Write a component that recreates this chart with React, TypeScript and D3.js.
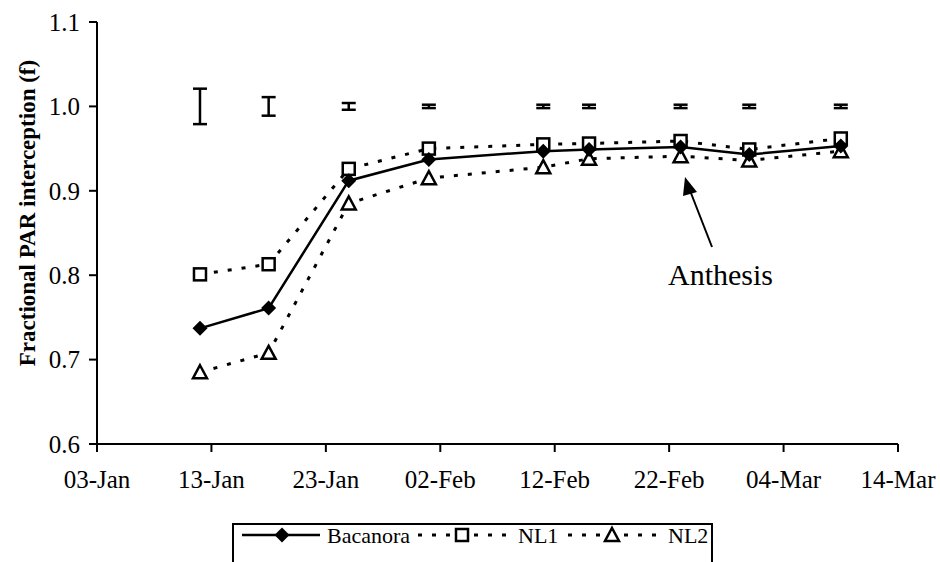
import React from "react";
import * as d3 from "d3";

// sampling dates and fractional PAR interception per cultivar
const dates = [
  "2001-01-12", "2001-01-18", "2001-01-25", "2001-02-01", "2001-02-11",
  "2001-02-15", "2001-02-23", "2001-03-01", "2001-03-09",
];
const bacanora = [0.737, 0.761, 0.912, 0.937, 0.947, 0.949, 0.952, 0.943, 0.953];
const nl1 = [0.801, 0.813, 0.926, 0.950, 0.955, 0.956, 0.959, 0.949, 0.962];
const nl2 = [0.685, 0.708, 0.885, 0.915, 0.928, 0.938, 0.941, 0.936, 0.947];
// half-length of the error bars drawn around f = 1.0
const errHalf = [0.021, 0.011, 0.004, 0.002, 0.002, 0.002, 0.002, 0.002, 0.002];
const errCenter = 1.0;

const xTicks = [
  "2001-01-03", "2001-01-13", "2001-01-23", "2001-02-02", "2001-02-12",
  "2001-02-22", "2001-03-04", "2001-03-14",
];
const yTicks = [0.6, 0.7, 0.8, 0.9, 1.0, 1.1];
const seriesNames = ["Bacanora", "NL1", "NL2"];

const parse = d3.timeParse("%Y-%m-%d");
const fmt = d3.timeFormat("%d-%b");
const FONT = "'Liberation Serif', 'Times New Roman', serif";

const x = d3
  .scaleTime()
  .domain([parse(xTicks[0]) as Date, parse(xTicks[xTicks.length - 1]) as Date])
  .range([97, 898]);
const y = d3.scaleLinear().domain([0.6, 1.1]).range([444, 22]);

const Marker = ({ kind, cx, cy }: { kind: string; cx: number; cy: number }) => {
  if (kind === "diamond") {
    const r = 7.5;
    return (
      <path
        d={`M${cx},${cy - r}L${cx + r},${cy}L${cx},${cy + r}L${cx - r},${cy}Z`}
        fill="#000"
      />
    );
  }
  if (kind === "square") {
    return (
      <rect x={cx - 6} y={cy - 6} width={12} height={12} fill="#fff" stroke="#000" strokeWidth={2.5} />
    );
  }
  return (
    <path
      d={`M${cx},${cy - 7}L${cx + 7},${cy + 6}L${cx - 7},${cy + 6}Z`}
      fill="#fff"
      stroke="#000"
      strokeWidth={2.5}
      strokeLinejoin="miter"
    />
  );
};

const App = () => {
  const pts = dates.map((d) => parse(d) as Date);
  const line = d3
    .line<number>()
    .x((_, i) => x(pts[i]))
    .y((d) => y(d));

  const series = [
    { name: seriesNames[0], vals: bacanora, kind: "diamond", dash: undefined, w: 2.5 },
    { name: seriesNames[1], vals: nl1, kind: "square", dash: "4 10", w: 3 },
    { name: seriesNames[2], vals: nl2, kind: "triangle", dash: "4 10", w: 3 },
  ];

  // legend layout
  const legY = 535;
  const legItems = [
    { x0: 242, x1: 320, mx: 282, tx: 327 },
    { x0: 418, x1: 512, mx: 462, tx: 518 },
    { x0: 568, x1: 662, mx: 612, tx: 668 },
  ];

  return (
    <svg
      width={940}
      height={562}
      style={{ position: "absolute", left: 0, top: 0, background: "#fff" }}
      fontFamily={FONT}
    >
      {/* error bars */}
      {pts.map((d, i) => {
        const cx = x(d);
        const y0 = y(errCenter + errHalf[i]);
        const y1 = y(errCenter - errHalf[i]);
        return (
          <g key={"e" + i} stroke="#000" strokeWidth={2.5}>
            <line x1={cx} x2={cx} y1={y0} y2={y1} />
            <line x1={cx - 7} x2={cx + 7} y1={y0} y2={y0} />
            <line x1={cx - 7} x2={cx + 7} y1={y1} y2={y1} />
          </g>
        );
      })}

      {/* series lines */}
      {series.map((s) => (
        <path
          key={s.name}
          d={line(s.vals) || ""}
          fill="none"
          stroke="#000"
          strokeWidth={s.w}
          strokeDasharray={s.dash}
        />
      ))}
      {/* markers: NL2, NL1 then Bacanora on top */}
      {[series[2], series[1], series[0]].map((s) =>
        s.vals.map((v, i) => (
          <Marker key={s.name + i} kind={s.kind} cx={x(pts[i])} cy={y(v)} />
        ))
      )}

      {/* axes */}
      <g stroke="#000" strokeWidth={2}>
        <line x1={97} x2={97} y1={y(1.1)} y2={y(0.6)} />
        <line x1={96} x2={x.range()[1]} y1={y(0.6)} y2={y(0.6)} />
        {yTicks.map((t) => (
          <line key={"yt" + t} x1={89} x2={97} y1={y(t)} y2={y(t)} />
        ))}
        {xTicks.map((t) => {
          const px = x(parse(t) as Date);
          return <line key={"xt" + t} x1={px} x2={px} y1={y(0.6)} y2={y(0.6) + 8} />;
        })}
      </g>
      {yTicks.map((t) => (
        <text
          key={"yl" + t}
          x={80}
          y={y(t)}
          dy="0.35em"
          textAnchor="end"
          fontSize={25}
        >
          {t.toFixed(1)}
        </text>
      ))}
      {xTicks.map((t) => {
        const d = parse(t) as Date;
        return (
          <text key={"xl" + t} x={x(d)} y={488} textAnchor="middle" fontSize={25}>
            {fmt(d)}
          </text>
        );
      })}
      <text
        transform="translate(35,213) rotate(-90)"
        textAnchor="middle"
        fontSize={23}
        fontWeight="bold"
      >
        Fractional PAR interception (f)
      </text>

      {/* anthesis annotation */}
      <line x1={712} y1={247} x2={689} y2={188} stroke="#000" strokeWidth={2} />
      <path d="M685,177L697,192L683,196Z" fill="#000" />
      <text x={668} y={285} fontSize={30}>
        Anthesis
      </text>

      {/* legend */}
      <rect x={233} y={524} width={479} height={60} fill="none" stroke="#000" strokeWidth={2} />
      {series.map((s, i) => {
        const it = legItems[i];
        return (
          <g key={"lg" + s.name}>
            <line
              x1={it.x0}
              x2={it.x1}
              y1={legY}
              y2={legY}
              stroke="#000"
              strokeWidth={s.w}
              strokeDasharray={s.dash}
            />
            <Marker kind={s.kind} cx={it.mx} cy={legY} />
            <text x={it.tx} y={legY + 8} fontSize={22}>
              {s.name}
            </text>
          </g>
        );
      })}
    </svg>
  );
};

export default App;
